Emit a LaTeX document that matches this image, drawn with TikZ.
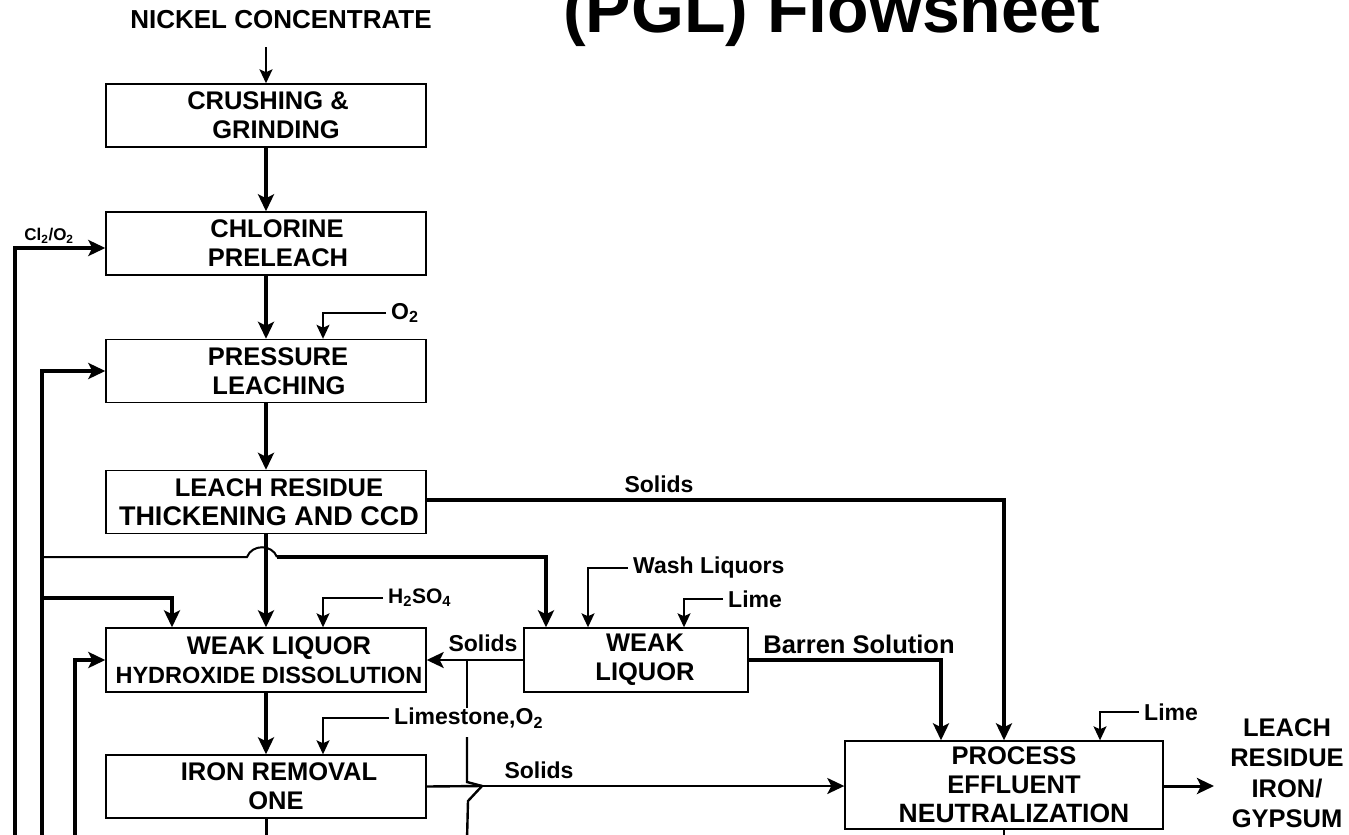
\documentclass[tikz,border=0pt]{standalone}
\usepackage{fontspec}
\setmainfont{Liberation Sans}
\usetikzlibrary{arrows.meta,calc}
\newcommand\bxfont{\fontsize{25.5}{29}\selectfont\bfseries}
\newcommand\lbfont{\fontsize{23}{26}\selectfont\bfseries}
\newcommand\sh[1]{\hspace*{#1pt}}
\begin{document}
\begin{tikzpicture}[x=1pt,y=-1pt,
  box/.style={draw,line width=1.4pt,inner sep=0pt,align=center,font=\bxfont},
  lbl/.style={inner sep=0pt,font=\lbfont},
  rg/.style={inner xsep=5pt,inner ysep=0pt,anchor=west,font=\lbfont},
  bighead/.style={-{Stealth[length=17pt,width=16pt,inset=4pt]}},
  smallhead/.style={-{Stealth[length=14pt,width=13pt,inset=3pt]}},
  flow/.style={line width=3.5pt,bighead},
  fat/.style={line width=4.5pt},
  feed/.style={line width=1.6pt,smallhead},
  med/.style={line width=2.4pt}]
\useasboundingbox (0,0) rectangle (1349,835);
\fill[white] (0,0) rectangle (1349,835);
\clip (0,0) rectangle (1349,835);

% title (cut at the top in the reference)
\node[anchor=base west,inner sep=0pt,font=\fontsize{68}{70}\selectfont\bfseries] (title) at (563,32) {(PGL) Flowsheet};

% feed text
\node[inner sep=0pt,font=\fontsize{26}{29}\selectfont\bfseries] (nickel) at (281,20) {NICKEL CONCENTRATE};

% boxes
\node[box,minimum width=320pt,minimum height=63pt] (crush) at (266,115.5) {\sh{4}CRUSHING \&\\\sh{20}GRINDING};
\node[box,minimum width=320pt,minimum height=63pt] (chlor) at (266,243.5) {\sh{22}CHLORINE\\\sh{24}PRELEACH};
\node[box,minimum width=320pt,minimum height=63pt] (press) at (266,371) {\sh{24}PRESSURE\\\sh{26}LEACHING};
\node[box,minimum width=320pt,minimum height=63pt] (leach) at (266,502) {\sh{26}LEACH RESIDUE\\\sh{6}{\fontsize{27}{29}\selectfont THICKENING AND CCD}};
\node[box,minimum width=320pt,minimum height=64pt] (weak) at (266,660) {\sh{26}WEAK LIQUOR\\\sh{6}{\fontsize{23.5}{29}\selectfont HYDROXIDE DISSOLUTION}};
\node[box,minimum width=320pt,minimum height=63pt] (iron) at (266,786.5) {\sh{26}IRON REMOVAL\\\sh{20}ONE};
\node[box,minimum width=224pt,minimum height=64pt] (wlq) at (636,660) {\sh{18}WEAK\\\sh{18}LIQUOR};
\node[box,minimum width=318pt,minimum height=88pt] (proc) at (1004,785) {\sh{20}PROCESS\\\sh{20}EFFLUENT\\\sh{20}{\fontsize{26.5}{29}\selectfont NEUTRALIZATION}};
\node[inner sep=0pt,align=center,font=\fontsize{25.5}{30.5}\selectfont\bfseries] (resid) at (1287,773) {LEACH\\RESIDUE\\IRON/\\GYPSUM};

% reagent labels
\node[inner sep=0pt,font=\fontsize{17}{18}\selectfont\bfseries] (cl) at (49,236) {Cl\textsubscript{2}/O\textsubscript{2}};
\node[rg] (o2) at (386,313) {O\textsubscript{2}};
\node[rg,font=\fontsize{21}{24}\selectfont\bfseries] (h2so4) at (383,598) {H\textsubscript{2}SO\textsubscript{4}};
\node[rg] (limestone) at (389,718) {Limestone,O\textsubscript{2}};
\node[rg] (wash) at (628,568) {Wash Liquors};
\node[rg] (limea) at (723,599) {Lime};
\node[rg] (limeb) at (1139,712) {Lime};

% stream labels
\node[lbl] (s1) at (659,484) {Solids};
\node[lbl] (s2) at (483,643) {Solids};
\node[lbl] (s3) at (539,770) {Solids};
\node[lbl,font=\fontsize{25.5}{28}\selectfont\bfseries] (barren) at (859,644) {Barren Solution};

% free ends
\coordinate (n1) at (266,47);
\coordinate (b15) at (15,840);
\coordinate (b42) at (42,840);
\coordinate (b75) at (75,840);

% main column
\draw[line width=2pt,smallhead] (n1) -- (crush.north);
\draw[flow] (crush.south) -- (chlor.north);
\draw[flow] (chlor.south) -- (press.north);
\draw[flow] (press.south) -- (leach.north);
\draw[flow] (leach.south) -- (weak.north);
\draw[flow] (weak.south) -- (iron.north);
\draw[line width=3pt] (iron.south) -- (266,840);

% reagent feeds
\draw[feed] (o2.west) -| ([xshift=57pt]press.north);
\draw[feed] (h2so4.west) -| ([xshift=57pt]weak.north);
\draw[feed] (limestone.west) -| ([xshift=57pt]iron.north);
\draw[feed] (wash.west) -| ([xshift=-48pt]wlq.north);
\draw[feed] (limea.west) -| ([xshift=48pt]wlq.north);
\draw[feed] (limeb.west) -| ([xshift=96pt]proc.north);

% left recycle lines
\draw[line width=3.5pt,bighead] (b15) |- ([yshift=-4.5pt]chlor.west);
\draw[line width=4pt,bighead] (b42) |- (press.west);
\draw[line width=4.5pt,bighead] (b75) |- (weak.west);
\draw[fat,bighead] (42,598) -| ([xshift=-94pt]weak.north);
\draw[line width=2pt] (42,557) -- (247,557) .. controls (252,544) and (272,544) .. (277,557);
\draw[fat,bighead] (277,557) -| ([xshift=-90pt]wlq.north);

% solids and barren solution to neutralization
\draw[fat,bighead] (leach.east |- 0,500) -| (proc.north);
\draw[fat,bighead] (wlq.east) -| ([xshift=-63pt]proc.north);
\draw[med,bighead] (wlq.west) -- (weak.east);
\draw[med] (467,660) -- (467,708);
\draw[med] (467,737) -- (467,782) -- (482,786) -- (468,801) -- (467,840);
\draw[med] (iron.east) -- (482,786);
\draw[line width=2pt,bighead] (482,786) -- (proc.west |- 0,786);

% output of neutralization
\draw[line width=3pt,bighead] (proc.east |- 0,786) -- (1214,786);
\draw[line width=2pt] (proc.south) -- (1004,840);
\end{tikzpicture}
\end{document}
